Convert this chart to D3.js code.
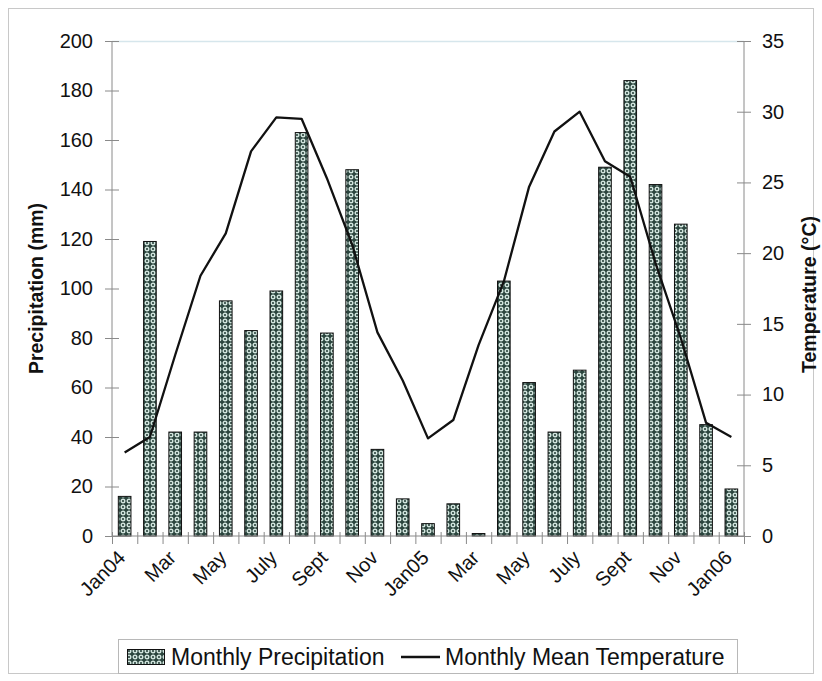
<!DOCTYPE html>
<html>
<head>
<meta charset="utf-8">
<script src="https://cdn.jsdelivr.net/npm/d3@7"></script>
<style>
  html, body { margin: 0; padding: 0; background: #fff; }
  svg { display: block; }
  text { font-family: "Liberation Sans", Arial, sans-serif; fill: #111; }
</style>
</head>
<body>
<svg id="chart" width="822" height="681"></svg>
<script>
// ---- data ----
const months = ["Jan04","Feb04","Mar04","Apr04","May04","Jun04","Jul04","Aug04","Sep04","Oct04","Nov04","Dec04",
                "Jan05","Feb05","Mar05","Apr05","May05","Jun05","Jul05","Aug05","Sep05","Oct05","Nov05","Dec05","Jan06"];
const tickLabels = ["Jan04","","Mar","","May","","July","","Sept","","Nov","",
                    "Jan05","","Mar","","May","","July","","Sept","","Nov","","Jan06"];
const precipitation = [16,119,42,42,95,83,99,163,82,148,35,15,5,13,1,103,62,42,67,149,184,142,126,45,19];
const temperature = [5.9,7.0,12.8,18.4,21.4,27.2,29.6,29.5,25.3,20.6,14.4,11.0,6.9,8.2,13.5,18.0,24.7,28.6,30.0,26.5,25.4,19.3,14.0,8.0,7.0];
const precipTicks = [0,20,40,60,80,100,120,140,160,180,200];
const tempTicks = [0,5,10,15,20,25,30,35];

// ---- layout ----
const svg = d3.select("#chart");
const L = 112, R = 744, T = 41, B = 536;

const x = d3.scaleBand().domain(months).range([L, R]).paddingInner(0.5).paddingOuter(0.25);
const yP = d3.scaleLinear().domain([0, 200]).range([B, T]);
const yT = d3.scaleLinear().domain([0, 35]).range([B, T]);

// outer border
svg.append("rect").attr("x", 8.5).attr("y", 8.5).attr("width", 805).attr("height", 665)
  .attr("fill", "none").attr("stroke", "#c8c8c8").attr("stroke-width", 1);

// pattern
const defs = svg.append("defs");
const pat = defs.append("pattern").attr("id", "dots").attr("patternUnits", "userSpaceOnUse")
  .attr("width", 6).attr("height", 6);
pat.append("rect").attr("width", 6).attr("height", 6).attr("fill", "#2b453e");
pat.append("circle").attr("cx", 3).attr("cy", 3).attr("r", 1.8)
  .attr("fill", "none").attr("stroke", "#d3e6df").attr("stroke-width", 1.4);

// top faint border line
svg.append("line").attr("x1", L).attr("x2", R).attr("y1", T + 0.5).attr("y2", T + 0.5)
  .attr("stroke", "#d6e6ec").attr("stroke-width", 1.5);

// bars
svg.append("g").selectAll("rect").data(precipitation).join("rect")
  .attr("x", (d, i) => x(months[i]))
  .attr("y", d => yP(d))
  .attr("width", x.bandwidth())
  .attr("height", d => B - yP(d))
  .attr("fill", "url(#dots)")
  .attr("stroke", "#111").attr("stroke-width", 1);

// left axis
const gL = svg.append("g").attr("transform", `translate(${L},0)`)
  .call(d3.axisLeft(yP).tickValues(precipTicks).tickSize(7).tickPadding(12));
gL.select(".domain").attr("stroke", "#8a8a8a").attr("d", `M0,${T}V${B}`);
gL.selectAll(".tick line").attr("stroke", "#8a8a8a").attr("x1", 7).attr("x2", -7);
gL.selectAll(".tick text").style("font-size", "20px").attr("fill", "#111")
  .style("font-family", "'Liberation Sans', Arial, sans-serif");

// right axis
const gR = svg.append("g").attr("transform", `translate(${R},0)`)
  .call(d3.axisRight(yT).tickValues(tempTicks).tickSize(7).tickPadding(11));
gR.select(".domain").attr("stroke", "#8a8a8a").attr("d", `M0,${T}V${B}`);
gR.selectAll(".tick line").attr("stroke", "#8a8a8a").attr("x1", -7).attr("x2", 7);
gR.selectAll(".tick text").style("font-size", "20px").attr("fill", "#111")
  .style("font-family", "'Liberation Sans', Arial, sans-serif");

// bottom axis: ticks at category boundaries
const xb = d3.scaleLinear().domain([0, months.length]).range([L, R]);
const gB = svg.append("g").attr("transform", `translate(0,${B})`)
  .call(d3.axisBottom(xb).tickValues(d3.range(0, months.length + 1)).tickSize(8).tickFormat(""));
gB.select(".domain").attr("stroke", "#8a8a8a").attr("d", `M${L},0H${R}`);
gB.selectAll(".tick line").attr("stroke", "#8a8a8a").attr("y1", -4).attr("y2", 8);

// x labels
svg.append("g").selectAll("text").data(tickLabels).join("text")
  .attr("transform", (d, i) => `translate(${x(months[i]) + x.bandwidth() / 2 + 2},${B + 23}) rotate(-45)`)
  .attr("text-anchor", "end")
  .style("font-size", "20px")
  .text(d => d);

// temperature line
const line = d3.line().x((d, i) => x(months[i]) + x.bandwidth() / 2).y(d => yT(d));
svg.append("path").datum(temperature).attr("d", line)
  .attr("fill", "none").attr("stroke", "#111").attr("stroke-width", 2.3).attr("stroke-linejoin", "round");

// axis titles
svg.append("text").attr("transform", `translate(43,${(T + B) / 2}) rotate(-90)`)
  .attr("text-anchor", "middle").style("font-size", "19.5px").style("font-weight", "bold")
  .text("Precipitation (mm)");
svg.append("text").attr("transform", `translate(816,${(T + B) / 2 + 6}) rotate(-90)`)
  .attr("text-anchor", "middle").style("font-size", "19.5px").style("font-weight", "bold")
  .text("Temperature (°C)");

// legend
const lg = svg.append("g");
lg.append("rect").attr("x", 118.5).attr("y", 639.5).attr("width", 619).attr("height", 34)
  .attr("fill", "#fff").attr("stroke", "#b8b8b8").attr("stroke-width", 1);
lg.append("rect").attr("x", 127.5).attr("y", 649.5).attr("width", 37).attr("height", 15)
  .attr("fill", "url(#dots)").attr("stroke", "#111").attr("stroke-width", 1);
lg.append("text").attr("x", 171).attr("y", 665).style("font-size", "23px").text("Monthly Precipitation");
lg.append("line").attr("x1", 401).attr("x2", 440).attr("y1", 657).attr("y2", 657)
  .attr("stroke", "#111").attr("stroke-width", 2.3);
lg.append("text").attr("x", 445).attr("y", 665).style("font-size", "23px").text("Monthly Mean Temperature");
</script>
</body>
</html>
